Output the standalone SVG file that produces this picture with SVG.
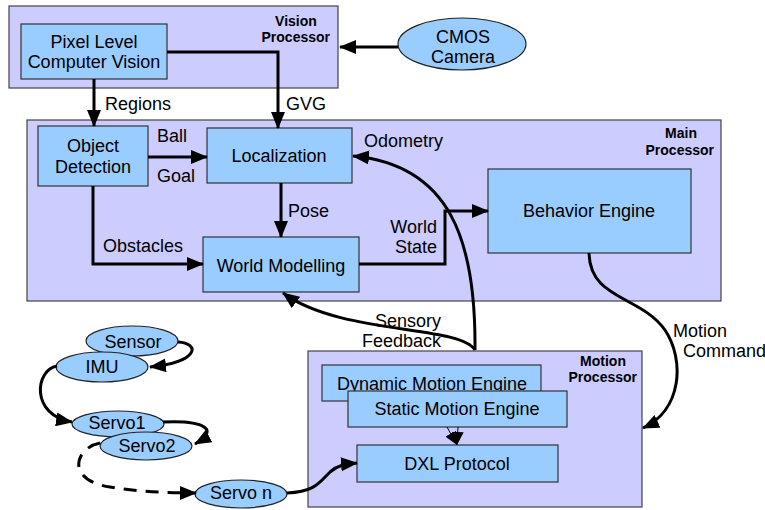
<svg xmlns="http://www.w3.org/2000/svg" width="765" height="510" viewBox="0 0 765 510">
<style>
.cont{fill:#ccccff;stroke:#444;stroke-width:1.2}
.box{fill:#99ccff;stroke:#333;stroke-width:1.2}
.ell{fill:#99ccff;stroke:#222;stroke-width:1.2}
text{font-family:"Liberation Sans",Arial,sans-serif;font-size:18px;fill:#000}
.b{font-weight:bold;font-size:14px}
.m{text-anchor:middle}
.e{text-anchor:end}
.c{fill:none;stroke:#000;stroke-width:3}
.t{fill:none;stroke:#000;stroke-width:1}
</style>
<defs>
<marker id="ah" markerUnits="userSpaceOnUse" markerWidth="17" markerHeight="14" refX="16" refY="7" orient="auto"><path d="M0,0 L17,7 L0,14 z" fill="#000"/></marker>
<marker id="ahs" markerUnits="userSpaceOnUse" markerWidth="13" markerHeight="12" refX="13" refY="6" orient="auto"><path d="M0,0 L13,6 L0,12 z" fill="#000"/></marker>
</defs>
<g id="vision-processor"><rect class="cont" x="9" y="6" width="329" height="82"/><text class="b m" x="296" y="26">Vision</text><text class="b e" x="330" y="42">Processor</text></g>
<g id="main-processor"><rect class="cont" x="27" y="120" width="694" height="181"/><text class="b m" x="681" y="138">Main</text><text class="b e" x="714" y="155">Processor</text></g>
<g id="motion-processor"><rect class="cont" x="308" y="351" width="334" height="156"/><text class="b m" x="603" y="366">Motion</text><text class="b e" x="637" y="382">Processor</text></g>
<g id="pixel-level"><rect class="box" x="21" y="24" width="146" height="55"/><text class="m" x="94" y="48">Pixel Level</text><text class="m" x="94" y="68">Computer Vision</text></g>
<g id="cmos-camera"><ellipse class="ell" cx="462" cy="44" rx="64" ry="26"/><text class="m" x="463" y="43">CMOS</text><text class="m" x="463" y="63">Camera</text></g>
<g id="object-detection"><rect class="box" x="38" y="126" width="110" height="60"/><text class="m" x="93" y="152">Object</text><text class="m" x="93" y="173">Detection</text></g>
<g id="localization"><rect class="box" x="207" y="128" width="145" height="55"/><text class="m" x="279" y="162">Localization</text></g>
<g id="world-modelling"><rect class="box" x="203" y="237" width="156" height="55"/><text class="m" x="281" y="272">World Modelling</text></g>
<g id="behavior-engine"><rect class="box" x="488" y="169" width="203" height="84"/><text class="m" x="589" y="217">Behavior Engine</text></g>
<g id="dynamic-motion-engine"><rect class="box" x="322" y="365" width="219" height="36"/><text class="m" x="432" y="390">Dynamic Motion Engine</text></g>
<g id="static-motion-engine"><rect class="box" x="348" y="391" width="219" height="36"/><text class="m" x="457" y="415">Static Motion Engine</text></g>
<g id="dxl-protocol"><rect class="box" x="357" y="445" width="201" height="37"/><text class="m" x="457" y="470">DXL Protocol</text></g>
<g id="sensor"><ellipse class="ell" cx="132" cy="341" rx="46" ry="15"/><text class="m" x="133" y="348">Sensor</text></g>
<g id="imu"><ellipse class="ell" cx="102" cy="367" rx="46" ry="15"/><text class="m" x="102" y="373">IMU</text></g>
<g id="servo1"><ellipse class="ell" cx="118" cy="424" rx="46" ry="13"/><text class="m" x="117" y="429">Servo1</text></g>
<g id="servo2"><ellipse class="ell" cx="146" cy="446" rx="46" ry="14"/><text class="m" x="147" y="452">Servo2</text></g>
<g id="servo-n"><ellipse class="ell" cx="241" cy="494" rx="46" ry="14"/><text class="m" x="241" y="499">Servo n</text></g>
<g id="connectors">
<path class="c" d="M398 47 H340" marker-end="url(#ah)"/>
<path class="c" d="M94 79 V126" marker-end="url(#ah)"/>
<path class="c" d="M167 52 H278 V128" marker-end="url(#ah)"/>
<path class="c" d="M148 157 H207" marker-end="url(#ah)"/>
<path class="c" d="M281 183 V237" marker-end="url(#ah)"/>
<path class="c" d="M93 186 V264 H203" marker-end="url(#ah)"/>
<path class="c" d="M359 264 H445 V211 H488" marker-end="url(#ah)"/>
<path class="c" d="M475 350 C476 240 450 165 353 156" marker-end="url(#ah)"/>
<path class="c" d="M475 350 C460 325 340 335 283 293" marker-end="url(#ah)"/>
<path class="c" d="M589 253 C590 300 640 295 665 330 C685 360 682 410 643 428" marker-end="url(#ah)"/>
<path class="t" d="M447 427 L457 445" marker-end="url(#ahs)"/>
<path class="t" d="M458 427 L457 445" marker-end="url(#ahs)"/>
<path class="c" d="M178 342 C200 343 200 362 150 367" marker-end="url(#ah)"/>
<path class="c" d="M57 366 C35 370 30 415 72 422" marker-end="url(#ah)"/>
<path class="c" d="M163 422 C205 420 220 430 195 444" marker-end="url(#ah)"/>
<path class="c" d="M100 443 C75 448 65 480 110 487 C140 492 170 493 196 493" stroke-dasharray="13 9" marker-end="url(#ah)"/>
<path class="c" d="M287 493 C315 492 320 482 330 472 C338 465 345 464 357 463" marker-end="url(#ah)"/>
</g>
<g id="labels">
<text x="105" y="110">Regions</text>
<text x="286" y="110">GVG</text>
<text x="157" y="142">Ball</text>
<text x="157" y="182">Goal</text>
<text x="288" y="217">Pose</text>
<text x="103" y="252">Obstacles</text>
<text x="364" y="147">Odometry</text>
<text class="e" x="437" y="233">World</text>
<text class="e" x="437" y="253">State</text>
<text class="e" x="441" y="327">Sensory</text>
<text class="e" x="441" y="347">Feedback</text>
<text x="673" y="337">Motion</text>
<text x="683" y="357">Command</text>
</g>
</svg>
